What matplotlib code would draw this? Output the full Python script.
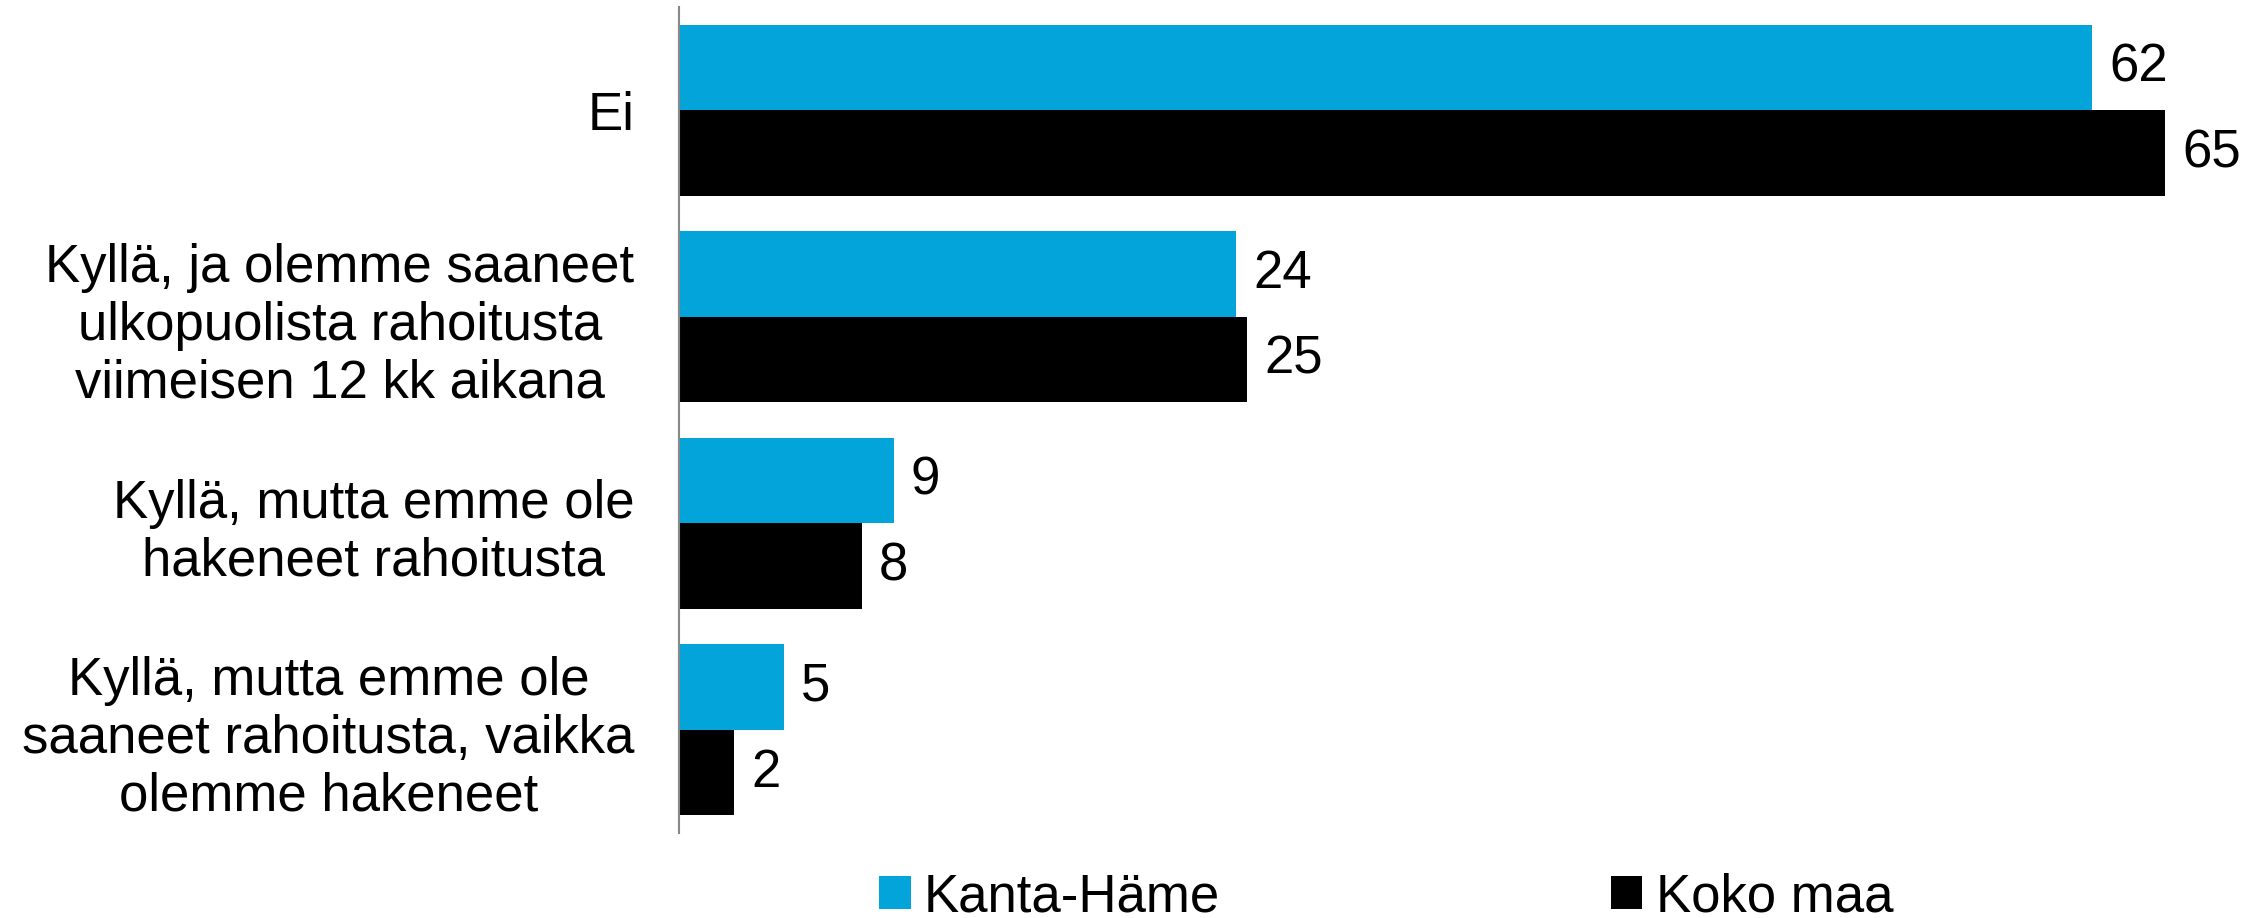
import numpy as np
import matplotlib.pyplot as plt

plt.rcParams["font.family"] = ["Liberation Sans", "DejaVu Sans"]

# Data (bar lengths; labels show rounded values)
categories = [
    "Ei",
    "Kyllä, ja olemme saaneet\nulkopuolista rahoitusta\nviimeisen 12 kk aikana",
    "Kyllä, mutta emme ole\nhakeneet rahoitusta",
    "Kyllä, mutta emme ole\nsaaneet rahoitusta, vaikka\nolemme hakeneet",
]
series_names = ["Kanta-Häme", "Koko maa"]
kanta_hame = [61.9, 24.4, 9.4, 4.6]
koko_maa = [65.1, 24.9, 8.0, 2.4]

colors = ["#03A4DA", "#000000"]
fs = 38


def main():
    fig = plt.figure(figsize=(22.62, 9.18), dpi=100)
    ax = fig.add_axes([679 / 2262, 85 / 918, 1550 / 2262, 826 / 918])

    y = np.arange(len(categories))
    h = 0.415
    for k, (vals, name) in enumerate(zip([kanta_hame, koko_maa], series_names)):
        pos = y + (k - 0.5) * h
        ax.barh(pos, vals, height=h, color=colors[k], label=name)
        for p, v in zip(pos, vals):
            ax.text(v + 0.75, p, f"{v:.0f}", va="center", ha="left", fontsize=fs)

    ax.set_xlim(0, 67.9)
    ax.set_ylim(len(categories) - 0.5, -0.5)
    ax.set_yticks(y)
    ax.set_yticklabels(categories, fontsize=fs, multialignment="center",
                       linespacing=1.2)
    ax.tick_params(axis="y", length=0, pad=32)
    ax.set_xticks([])
    for s in ["top", "right", "bottom"]:
        ax.spines[s].set_visible(False)
    ax.spines["left"].set_color("#888888")
    ax.spines["left"].set_linewidth(1.5)

    fig.legend(loc="center", bbox_to_anchor=(1386 / 2262, 1 - 897 / 918),
               ncol=2, frameon=False, fontsize=fs, handlelength=0.6,
               handleheight=0.6, handletextpad=0.25, columnspacing=7.4,
               borderpad=0)

    fig.savefig("out.png", dpi=100)
    plt.close(fig)


if __name__ == "__main__":
    main()
